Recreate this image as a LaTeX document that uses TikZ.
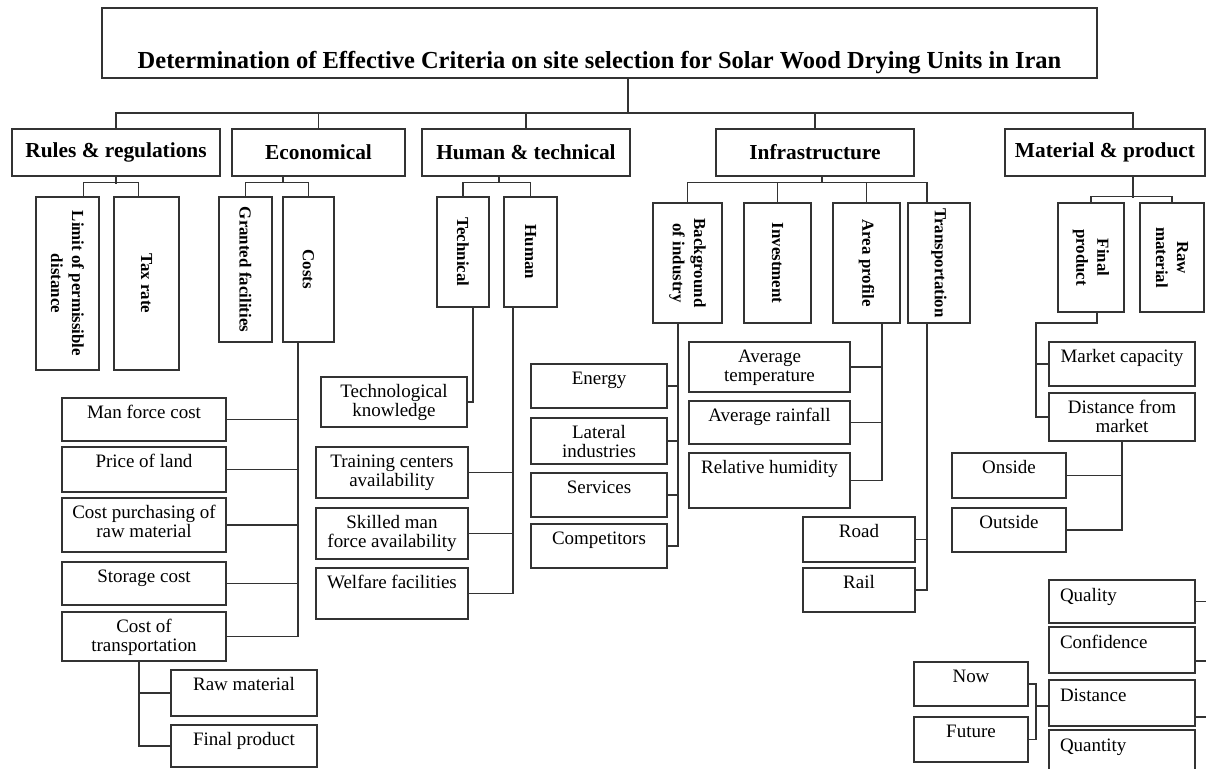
\documentclass[tikz,border=0pt]{standalone}
\usepackage{fontspec}
\setmainfont{Liberation Serif}
\usepackage{graphicx}
\usetikzlibrary{calc}
\newlength{\px}\setlength{\px}{0.025cm}
\newcommand{\topcell}[3]{\begin{minipage}[c][#2\px][t]{#1\px}\centering\rule{0pt}{20.5\px}#3\end{minipage}}
\newcommand{\midcell}[3]{\begin{minipage}[c][#2\px][c]{#1\px}\centering #3\end{minipage}}
\newcommand{\leftcell}[3]{\begin{minipage}[c][#2\px][t]{#1\px}\rule{0pt}{21.5\px}\hspace*{11\px}#3\end{minipage}}
\tikzset{
  crit/.style={draw=black!80, line width=0.8pt, inner sep=0pt, font=\fontsize{13.5}{13.5}\selectfont},
  head/.style={crit, font=\bfseries\fontsize{15.2}{16}\selectfont},
  vcrit/.style={crit, font=\bfseries\fontsize{12}{15}\selectfont},
  link/.style={black!80, line width=0.8pt}
}
\begin{document}
\begin{tikzpicture}[x=0.025cm,y=-0.025cm]
\fill[white] (0,0) rectangle (1206,769);
\useasboundingbox (0,0) rectangle (1206,769);
% title
\node[crit, font=\bfseries\fontsize{17.4}{18}\selectfont] (title) at (599.5,43) {\begin{minipage}[c][70\px][t]{995\px}\centering\rule{0pt}{60\px}Determination of Effective Criteria on site selection for Solar Wood Drying Units in Iran\end{minipage}};
% criteria
\node[head] (rules) at (116,152.5) {\midcell{208}{47}{Rules \& regulations}};
\node[head] (econ) at (318.5,152.5) {\midcell{173}{47}{Economical}};
\node[head] (humtech) at (526,152.5) {\midcell{208}{47}{Human \& technical}};
\node[head] (infra) at (815,152.5) {\midcell{198}{47}{Infrastructure}};
\node[head] (mat) at (1105,152.5) {\midcell{200}{47}{Material \& product}};
\coordinate (bus) at (628,113);
\coordinate (busR) at (1133,113);
\draw[link] (title.south -| bus) -- (bus);
\draw[link] (rules.north) |- (busR) -- (busR |- mat.north);
\foreach \n in {econ,humtech,infra} \draw[link] (\n.north) -- (\n.north |- bus);
% rules & regulations
\node[vcrit] (lim) at (67.5,283.5) {\rotatebox{-90}{\midcell{173}{63}{Limit of permissible\\distance}}};
\node[vcrit] (tax) at (146.5,283.5) {\rotatebox{-90}{\midcell{173}{65}{Tax rate}}};
\draw[link] (rules.south) -- ++(0,7);
\draw[link] ($(lim.north)+(16,0)$) -- ++(0,-14) -| ($(tax.north)+(-8,0)$);
% economical
\node[vcrit] (grant) at (245.5,269.5) {\rotatebox{-90}{\midcell{145}{53}{Granted facilities}}};
\node[vcrit] (costs) at (308.5,269.5) {\rotatebox{-90}{\midcell{145}{51}{Costs}}};
\coordinate (econbus) at (283,183);
\draw[link] (econ.south -| econbus) -- (econbus);
\draw[link] (grant.north) -- ++(0,-14) -| (costs.north);
\node[crit] (mfc) at (144,419.5) {\topcell{164}{43}{Man force cost}};
\node[crit] (pol) at (144,469.5) {\topcell{164}{45}{Price of land}};
\node[crit] (cpr) at (144,525) {\topcell{164}{54}{Cost purchasing of\\raw material}};
\node[crit] (stc) at (144,583.5) {\topcell{164}{43}{Storage cost}};
\node[crit] (cot) at (144,636.5) {\topcell{164}{49}{Cost of\\transportation}};
\coordinate (cx) at (298,342);
\draw[link] (cx) |- (cot.east);
\foreach \n in {mfc,pol,cpr,stc} \draw[link] (\n.east) -- (\n.east -| cx);
\node[crit] (trm) at (244,693) {\topcell{146}{46}{Raw material}};
\node[crit] (tfp) at (244,746) {\topcell{146}{42}{Final product}};
\coordinate (tx) at (139,661);
\draw[link] (tx) |- (tfp.west);
\draw[link] (trm.west) -- (trm.west -| tx);
% human & technical
\node[vcrit] (tech) at (463,252) {\rotatebox{-90}{\midcell{110}{52}{Technical}}};
\node[vcrit] (hum) at (530.5,252) {\rotatebox{-90}{\midcell{110}{53}{Human}}};
\coordinate (humbus) at (499,183);
\draw[link] (humtech.south -| humbus) -- (humbus);
\draw[link] (tech.north) -- ++(0,-14) -| (hum.north);
\node[crit] (tk) at (394,402) {\topcell{146}{50}{Technological\\knowledge}};
\coordinate (kx) at (473,307);
\draw[link] (kx) |- (tk.east);
\node[crit] (tca) at (392,472.5) {\topcell{152}{51}{Training centers\\availability}};
\node[crit] (smf) at (392,533.5) {\topcell{152}{51}{Skilled man\\force availability}};
\node[crit] (wf) at (392,593.5) {\topcell{152}{51}{Welfare facilities}};
\coordinate (hx) at (513,307);
\draw[link] (hx) |- (wf.east);
\foreach \n in {tca,smf} \draw[link] (\n.east) -- (\n.east -| hx);
% infrastructure
\node[vcrit] (bg) at (687.5,263) {\rotatebox{-90}{\midcell{120}{69}{Background\\of industry}}};
\node[vcrit] (inv) at (777.5,263) {\rotatebox{-90}{\midcell{120}{67}{Investment}}};
\node[vcrit] (area) at (866.5,263) {\rotatebox{-90}{\midcell{120}{67}{Area profile}}};
\node[vcrit] (trans) at (939,263) {\rotatebox{-90}{\midcell{120}{62}{Transportation}}};
\coordinate (infbus) at (822,183);
\draw[link] (infra.south -| infbus) -- (infbus);
\draw[link] (bg.north) -- ++(0,-20) -| ($(trans.north)+(-12,0)$);
\foreach \n in {inv,area} \draw[link] (\n.north) -- (\n.north |- infbus);
\node[crit] (en) at (599,386) {\topcell{136}{44}{Energy}};
\node[crit] (li) at (599,441) {\topcell{136}{46}{Lateral\\industries}};
\node[crit] (sv) at (599,495) {\topcell{136}{44}{Services}};
\node[crit] (cp) at (599,546) {\topcell{136}{44}{Competitors}};
\coordinate (bx) at (678,323);
\draw[link] (bx) |- (cp.east);
\foreach \n in {en,li,sv} \draw[link] (\n.east) -- (\n.east -| bx);
\node[crit] (avgt) at (769.5,367) {\topcell{161}{50}{Average\\temperature}};
\node[crit] (avgr) at (769.5,422.5) {\topcell{161}{43}{Average rainfall}};
\node[crit] (relh) at (769.5,480.5) {\topcell{161}{55}{Relative humidity}};
\coordinate (ax) at (882,323);
\draw[link] (ax) |- (relh.east);
\foreach \n in {avgt,avgr} \draw[link] (\n.east) -- (\n.east -| ax);
\node[crit] (road) at (859,539.5) {\topcell{112}{45}{Road}};
\node[crit] (rail) at (859,590) {\topcell{112}{44}{Rail}};
\coordinate (rx) at (927,323);
\draw[link] (rx) |- (rail.east);
\draw[link] (road.east) -- (road.east -| rx);
% material & product
\node[vcrit] (fin) at (1091,257.5) {\rotatebox{-90}{\midcell{109}{66}{Final\\product}}};
\node[vcrit] (raw) at (1172,257.5) {\rotatebox{-90}{\midcell{109}{64}{Raw\\material}}};
\draw[link] (mat.south -| busR) -- ++(0,21);
\draw[link] (fin.north) -- ++(0,-6) -| (raw.north);
\node[crit] (mcap) at (1122,364) {\topcell{146}{44}{Market capacity}};
\node[crit] (dmkt) at (1122,417) {\topcell{146}{48}{Distance from\\market}};
\coordinate (fx) at (1097,312);
\coordinate (fy) at (1036,323);
\draw[link] (fx) |- (fy) |- (dmkt.west);
\draw[link] (mcap.west) -- (mcap.west -| fy);
\node[crit] (ons) at (1009,475.5) {\topcell{114}{45}{Onside}};
\node[crit] (outs) at (1009,530) {\topcell{114}{44}{Outside}};
\draw[link] (dmkt.south) |- (outs.east);
\draw[link] (ons.east) -- (ons.east -| dmkt.south);
\node[crit] (qual) at (1122,601.5) {\leftcell{146}{43}{Quality}};
\node[crit] (conf) at (1122,650) {\leftcell{146}{46}{Confidence}};
\node[crit] (dist) at (1122,703) {\leftcell{146}{46}{Distance}};
\node[crit] (quan) at (1122,753) {\leftcell{146}{46}{Quantity}};
\coordinate (edge) at (1215,0);
\draw[link] (qual.east) -- (qual.east -| edge);
\draw[link] ($(conf.east)+(0,11)$) -- ++(20,0);
\draw[link] ($(dist.east)+(0,14)$) -- ++(20,0);
\node[crit] (now) at (971,684) {\topcell{114}{44}{Now}};
\node[crit] (fut) at (971,739.5) {\topcell{114}{45}{Future}};
\coordinate (nx) at (1036,706);
\draw[link] (now.east) -| (nx);
\draw[link] (fut.east) -| (nx);
\draw[link] (nx) -- (dist.west |- nx);
\end{tikzpicture}
\end{document}
